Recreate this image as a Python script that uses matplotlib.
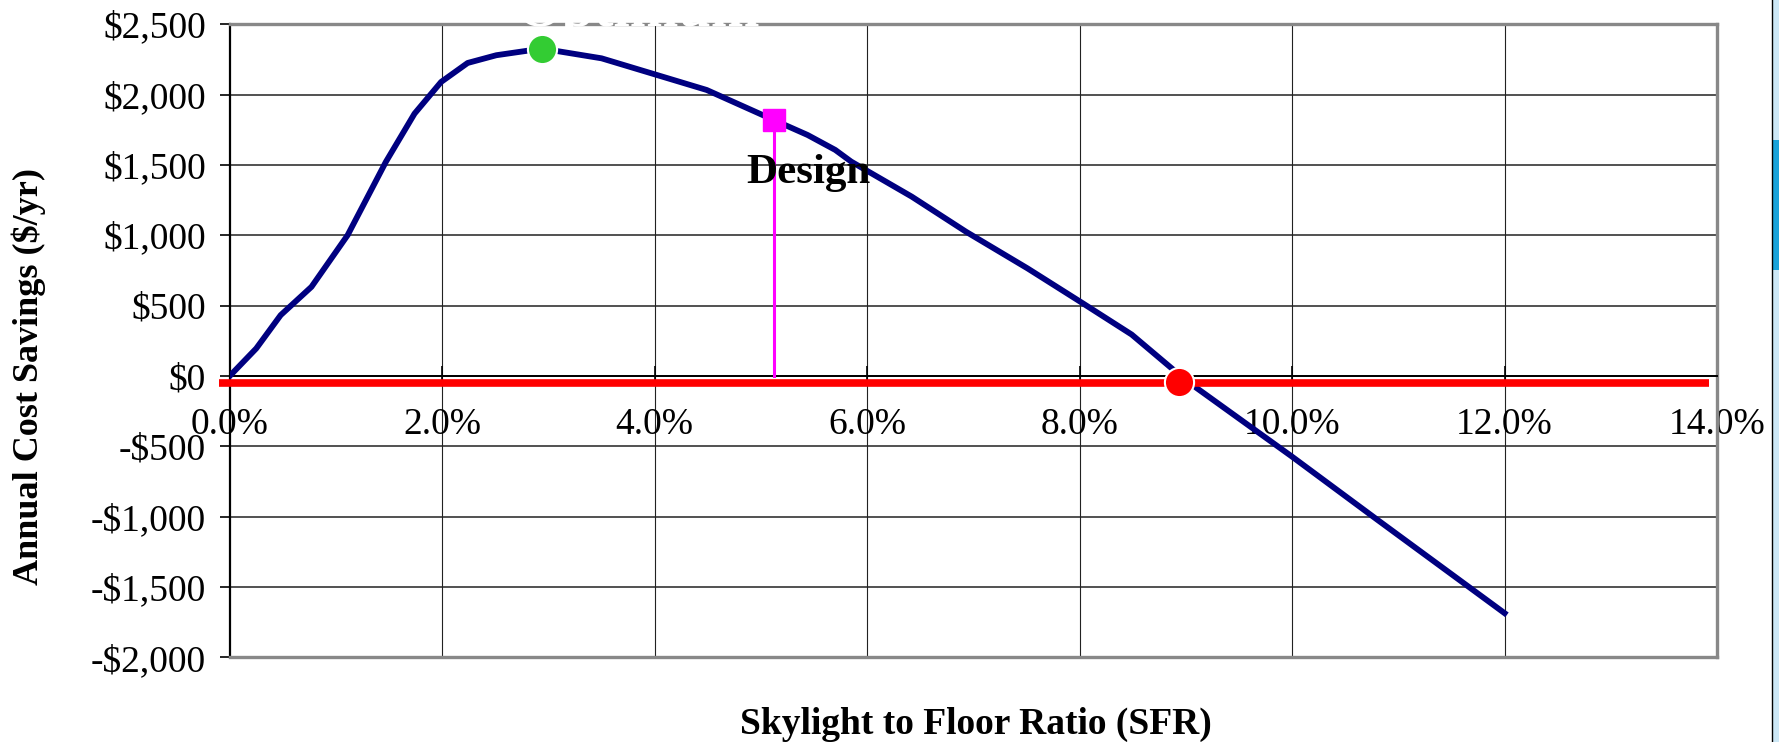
import matplotlib
matplotlib.use('Agg')
import matplotlib.pyplot as plt
from matplotlib.patches import Rectangle
from matplotlib.lines import Line2D

plt.rcParams['font.family'] = ['Liberation Serif', 'DejaVu Serif']

# curva de economia anual vs SFR
sfr = [0.0, 0.25, 0.48, 0.77, 1.11, 1.47, 1.74, 1.99, 2.24, 2.51, 2.94, 3.50,
       4.49, 5.12, 5.44, 5.70, 5.85, 6.42, 6.93, 7.51, 8.03, 8.49, 9.0, 10.0,
       10.8, 12.0]
savings = [0, 196, 433, 634, 1001, 1522, 1865, 2090, 2225, 2280, 2327, 2258,
           2033, 1820, 1713, 1607, 1524, 1275, 1026, 765, 517, 295, -30, -573,
           -1020, -1685]

# pontos destacados
optimum_x, optimum_y = 2.94, 2327
design_x, design_y = 5.12, 1820
breakeven_x, breakeven_y = 8.94, -45
zero_line_x = [-0.1, 13.92]
zero_line_y = -50

xticks = [0, 2, 4, 6, 8, 10, 12, 14]
xticklabels = ['0.0%', '2.0%', '4.0%', '6.0%', '8.0%', '10.0%', '12.0%', '14.0%']
yticks = [-2000, -1500, -1000, -500, 0, 500, 1000, 1500, 2000, 2500]
yticklabels = ['-$2,000', '-$1,500', '-$1,000', '-$500', '$0', '$500',
               '$1,000', '$1,500', '$2,000', '$2,500']

fig = plt.figure(figsize=(17.79, 7.42), dpi=100)
ax = fig.add_axes([0.1291, 0.1139, 0.8361, 0.8534])

ax.set_xlim(0, 14)
ax.set_ylim(-2000, 2500)

# grade
for yv in yticks:
    ax.axhline(yv, color='#222222', lw=1.1, zorder=1)
for xv in xticks[1:-1]:
    ax.axvline(xv, color='#222222', lw=0.8, zorder=1)

# moldura cinza
for s in ['top', 'right']:
    ax.spines[s].set_color('#888888')
    ax.spines[s].set_linewidth(2.4)
ax.axhline(-2000, color='#888888', lw=2.4, zorder=3, clip_on=False)
ax.spines['left'].set_color('black')
ax.spines['left'].set_linewidth(1.6)
ax.spines['bottom'].set_position(('data', 0))
ax.spines['bottom'].set_color('black')
ax.spines['bottom'].set_linewidth(1.4)

# curva
ax.plot(sfr, savings, color='#000080', lw=4.2, zorder=4)

# linha vermelha em zero
ax.plot(zero_line_x, [zero_line_y, zero_line_y], color='#FF0000', lw=5.5,
        solid_capstyle='butt', zorder=5, clip_on=False)

# projeto
ax.plot([design_x, design_x], [0, design_y], color='#FF00FF', lw=2.2, zorder=5)
ax.plot([design_x], [design_y], marker='s', ms=16, color='#FF00FF',
        mec='#FF00FF', zorder=6)
ax.text(4.86, 1372, 'Design', fontsize=31, fontweight='bold', color='black',
        ha='left', va='baseline', zorder=7)

# otimo e ponto de equilibrio
ax.plot([optimum_x], [optimum_y], marker='o', ms=21, color='#33CC33',
        mec='white', mew=1.5, zorder=7)
ax.plot([breakeven_x], [breakeven_y], marker='o', ms=21, color='#FF0000',
        mec='white', mew=1.5, zorder=7)
ax.text(3.84, 2486, 'Optimum', fontsize=42, fontweight='bold', color='white',
        ha='center', va='baseline', zorder=8, clip_on=False)

# eixos
ax.set_xticks(xticks)
ax.set_xticklabels(xticklabels)
ax.set_yticks(yticks)
ax.set_yticklabels(yticklabels)
ax.tick_params(axis='x', direction='inout', length=14, width=1.2,
               labelsize=27, pad=16)
ax.tick_params(axis='y', direction='out', length=7, width=1.2,
               labelsize=27, pad=10)

fig.text(0.016, 0.4926, 'Annual Cost Savings ($/yr)', rotation=90,
         fontsize=26, fontweight='bold', ha='center', va='center')
fig.text(0.5486, 0.0243, 'Skylight to Floor Ratio (SFR)', fontsize=27,
         fontweight='bold', ha='center', va='center')

# faixa azul na borda direita
fig.add_artist(Line2D([1771.7 / 1779] * 2, [0, 1], color='black', lw=1.0,
                      transform=fig.transFigure))
fig.add_artist(Rectangle((1772.5 / 1779, 0), 1 - 1772.5 / 1779, 1,
                         transform=fig.transFigure, color='#CDE8F6', lw=0))
fig.add_artist(Rectangle((1772.5 / 1779, 1 - 270 / 742), 1 - 1772.5 / 1779,
                         130 / 742, transform=fig.transFigure,
                         color='#1AA3DA', lw=0))

fig.savefig('out.png', dpi=100)
